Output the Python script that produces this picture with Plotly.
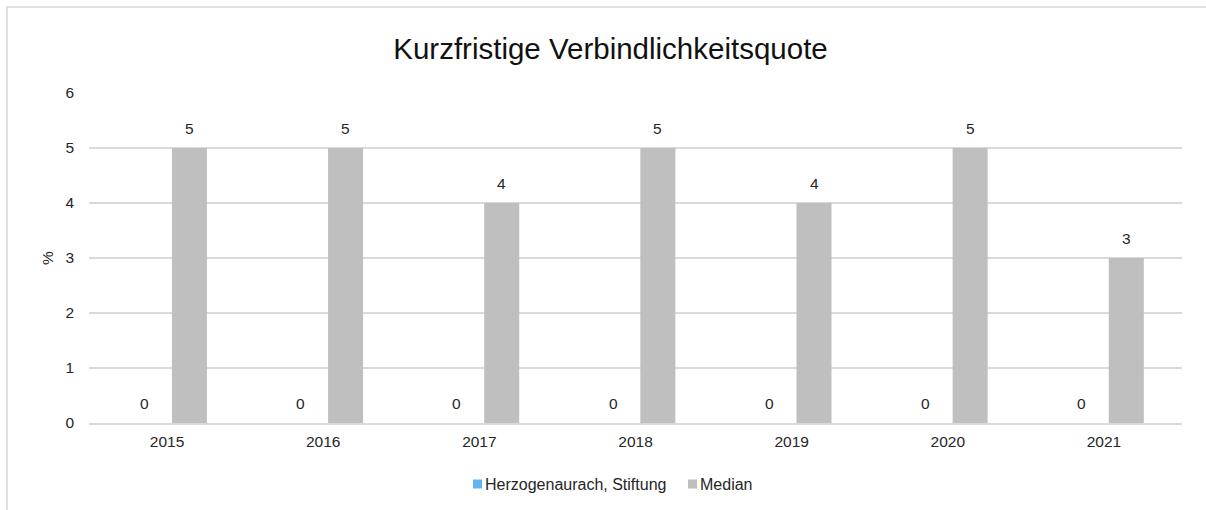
import plotly.graph_objects as go

years = ["2015", "2016", "2017", "2018", "2019", "2020", "2021"]
stiftung = [0, 0, 0, 0, 0, 0, 0]
median = [5, 5, 4, 5, 4, 5, 3]
series_names = ["Herzogenaurach, Stiftung", "Median"]
series_colors = ["#63b3f0", "#bfbfbf"]
title = "Kurzfristige Verbindlichkeitsquote"

W, H = 1206, 510
L, R, T, B = 89, 24, 93, 87
pw, ph = W - L - R, H - T - B
BARGAP, GROUPGAP = 0.427, 0.217
TXT = "#262626"
SMALL = 15.5


def px2x(p):
    return (p - L) / pw


def px2y(p):
    return (H - B - p) / ph


fig = go.Figure()
for name, vals, col in zip(series_names, [stiftung, median], series_colors):
    fig.add_trace(go.Bar(x=years, y=vals, name=name, marker=dict(color=col, line=dict(width=0)),
                         showlegend=False, hoverinfo="x+y+name"))

# data labels (offset to bar centres of the grouped bars); x given as category index
cat_w = pw / len(years)
slot = cat_w * (1 - BARGAP) / 2
annotations = []
for i, vals in enumerate([stiftung, median]):
    shift = (i - 0.5) * slot
    for idx, v in enumerate(vals):
        annotations.append(dict(x=idx, y=v, xref="x", yref="y", text=str(v), showarrow=False,
                                xshift=shift, yshift=20, xanchor="center", yanchor="middle",
                                font=dict(size=SMALL, color=TXT)))

# legend (Excel style: small square directly before text)
legend_x = [473, 688]
shapes = [dict(type="rect", xref="paper", yref="paper",
               x0=px2x(7), x1=px2x(1214), y0=px2y(7), y1=px2y(530),
               line=dict(color="#d9d9d9", width=1.6), fillcolor="rgba(0,0,0,0)", layer="below")]
for lx, name, col in zip(legend_x, series_names, series_colors):
    shapes.append(dict(type="rect", xref="paper", yref="paper",
                       x0=px2x(lx), x1=px2x(lx + 9), y0=px2y(488.5), y1=px2y(479.5),
                       line=dict(width=0), fillcolor=col))
    annotations.append(dict(x=px2x(lx + 10), y=px2y(484), xref="paper", yref="paper", text=name,
                            showarrow=False, xanchor="left", yanchor="middle",
                            font=dict(size=16, color=TXT)))

fig.update_layout(
    width=W, height=H,
    margin=dict(l=L, r=R, t=T, b=B),
    paper_bgcolor="white", plot_bgcolor="white",
    font=dict(family="Liberation Sans, Arial, sans-serif", color=TXT, size=SMALL),
    title=dict(text=title, x=610.5 / W, xref="container", xanchor="center",
               y=1 - 49 / H, yanchor="middle",
               font=dict(size=29.5, color="#111111")),
    barmode="group", bargap=BARGAP, bargroupgap=GROUPGAP,
    showlegend=False,
    xaxis=dict(type="category", categoryorder="array", categoryarray=years,
               range=[-0.5, len(years) - 0.5],
               showgrid=False, showline=True, linecolor="#d9d9d9", linewidth=1.5,
               ticks="", ticklabelstandoff=4, tickfont=dict(size=SMALL, color=TXT)),
    yaxis=dict(range=[0, 6], dtick=1, showgrid=True, gridcolor="#d9d9d9", gridwidth=1.5,
               zeroline=False, showline=False, ticks="", ticklabelstandoff=14,
               tickfont=dict(size=SMALL, color=TXT),
               title=dict(text="%", font=dict(size=SMALL, color=TXT), standoff=7)),
    shapes=shapes,
    annotations=annotations,
)

fig.write_html("out.html", config={"displayModeBar": False},
               post_script="document.body.style.margin='0';document.body.style.overflow='hidden';")
